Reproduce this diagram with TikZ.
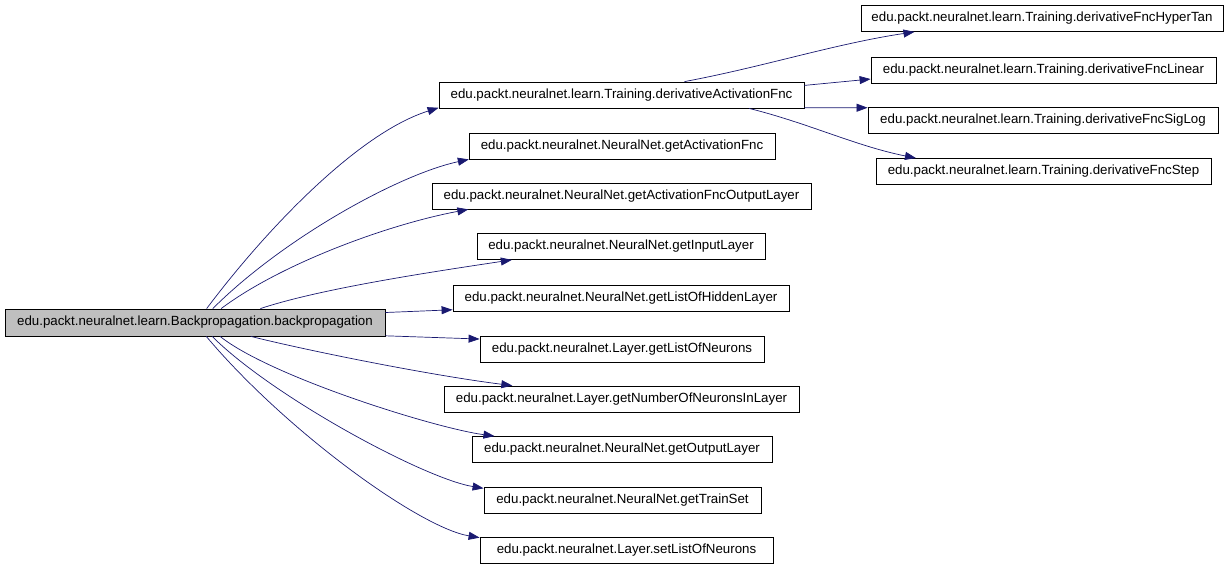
\documentclass[tikz,border=0pt]{standalone}
\usepackage{fontspec}
\setmainfont{Liberation Sans}
\usetikzlibrary{arrows.meta}
\definecolor{edgeblue}{RGB}{25,25,112}

\begin{document}
\begin{tikzpicture}[x=1pt, y=1pt, every node/.style={font=\fontsize{13.3}{15}\selectfont}, >={Triangle[length=11pt, width=8pt]}, fn/.style={draw, line width=0.8pt, rectangle, minimum height=26pt, inner sep=0pt}, edge/.style={edgeblue, line width=0.7pt, ->}]
	\useasboundingbox (0,0) rectangle (1232,569);
	\node[fn, fill=black!25, minimum width=380pt, minimum height=27pt] (root) at (195,246.5) {edu.packt.neuralnet.learn.Backpropagation.backpropagation};
	\node[fn, minimum width=365pt] (act) at (621.5,474) {edu.packt.neuralnet.learn.Training.derivativeActivationFnc};
	\node[fn, minimum width=362pt] (hyp) at (1042,550.5) {edu.packt.neuralnet.learn.Training.derivativeFncHyperTan};
	\node[fn, minimum width=345pt] (lin) at (1043.5,499) {edu.packt.neuralnet.learn.Training.derivativeFncLinear};
	\node[fn, minimum width=350pt] (sig) at (1043,449) {edu.packt.neuralnet.learn.Training.derivativeFncSigLog};
	\node[fn, minimum width=335pt] (stp) at (1043.5,397.5) {edu.packt.neuralnet.learn.Training.derivativeFncStep};
	\node[fn, minimum width=306pt] (gaf) at (622,423) {edu.packt.neuralnet.NeuralNet.getActivationFnc};
	\node[fn, minimum width=379pt] (gafo) at (621.5,373) {edu.packt.neuralnet.NeuralNet.getActivationFncOutputLayer};
	\node[fn, minimum width=288pt] (gil) at (621,322.5) {edu.packt.neuralnet.NeuralNet.getInputLayer};
	\node[fn, minimum width=336pt] (glh) at (621,271) {edu.packt.neuralnet.NeuralNet.getListOfHiddenLayer};
	\node[fn, minimum width=284pt] (gln) at (622,220) {edu.packt.neuralnet.Layer.getListOfNeurons};
	\node[fn, minimum width=355pt] (gnn) at (621.5,170) {edu.packt.neuralnet.Layer.getNumberOfNeuronsInLayer};
	\node[fn, minimum width=300pt] (gol) at (622,119.5) {edu.packt.neuralnet.NeuralNet.getOutputLayer};
	\node[fn, minimum width=277pt] (gts) at (622.5,68.5) {edu.packt.neuralnet.NeuralNet.getTrainSet};
	\node[fn, minimum width=293pt] (sln) at (626.5,18.5) {edu.packt.neuralnet.Layer.setListOfNeurons};
	% calls from backpropagation
	\draw[edge] (root.50.8) .. controls +(60,80) and +(-80,-25) .. (act.184.7);
	\draw[edge] (root.38.5) .. controls +(70,70) and +(-70,-15) .. (gaf.185);
	\draw[edge] (root.28.4) .. controls +(60,45) and +(-80,-15) .. (gafo.185.6);
	\draw[edge] (root.12.7) .. controls +(60,20) and +(-80,-12) .. (gil.187);
	\draw[edge] (root.3.2) -- (glh.184.1);
	\draw[edge] (root.356.5) -- (gln.176.8);
	\draw[edge] (root.346.2) .. controls +(60,-15) and +(-80,10) .. (gnn.173.4);
	\draw[edge] (root.331.6) .. controls +(50,-40) and +(-60,8) .. (gol.174.5);
	\draw[edge] (root.321.5) .. controls +(60,-60) and +(-60,10) .. (gts.175.3);
	\draw[edge] (root.309.2) .. controls +(80,-95) and +(-60,10) .. (sln.175.9);
	% calls from derivativeActivationFnc
	\draw[edge] (act.12.1) .. controls +(80,15) and +(-80,-12) .. (hyp.186.9);
	\draw[edge] (act.3.5) -- (lin.183.3);
	\draw[edge] (act.356.5) -- (sig.176.4);
	\draw[edge] (act.354.8) .. controls +(60,-15) and +(-60,12) .. (stp.174.6);
\end{tikzpicture}
\end{document}
